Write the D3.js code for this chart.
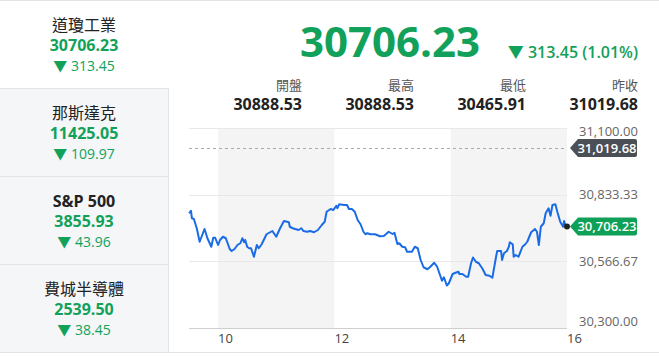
<!DOCTYPE html>
<html>
<head>
<meta charset="utf-8">
<script src="https://cdn.jsdelivr.net/npm/d3@7"></script>
<style>
  body { margin: 0; background: #fff; }
  svg { display: block; font-family: "Open Sans", "Noto Sans CJK TC", sans-serif; }
</style>
</head>
<body>
<div id="chart"></div>
<script>
// --- data ---
const indexNames = ["道瓊工業", "那斯達克", "S&P 500", "費城半導體"];
const indexValues = ["30706.23", "11425.05", "3855.93", "2539.50"];
const indexChanges = ["313.45", "109.97", "43.96", "38.45"];

const lastPrice = 30706.23;
const changeText = "313.45 (1.01%)";
const statLabels = ["開盤", "最高", "最低", "昨收"];
const statValues = ["30888.53", "30888.53", "30465.91", "31019.68"];
const prevClose = 31019.68;

const yTicks = [30300, 30566.67, 30833.33, 31100];
const xTickHours = [10, 12, 14, 16];
const shadedHours = [[10, 12], [14, 16]];

const times = ["09:30","09:32","09:33","09:35","09:38","09:41","09:46","09:49","09:53","09:55","09:57",
  "10:00","10:02","10:05","10:08","10:12","10:14","10:17","10:20","10:23","10:25","10:27","10:28",
  "10:30","10:32","10:34","10:37","10:40","10:42","10:45","10:50","10:56","11:00","11:04","11:08",
  "11:13","11:14","11:17","11:23","11:26","11:28","11:32","11:35","11:39","11:43","11:47","11:50",
  "11:52","11:56","11:59","12:02","12:03","12:05","12:10","12:13","12:15","12:18","12:21","12:24",
  "12:27","12:30","12:32","12:34","12:37","12:42","12:47","12:51","12:56","13:00","13:02","13:05",
  "13:07","13:10","13:13","13:15","13:20","13:23","13:26","13:29","13:32","13:36","13:39","13:43",
  "13:46","13:49","13:51","13:53","13:56","13:58","14:02","14:05","14:08","14:09","14:12","14:16",
  "14:18","14:21","14:23","14:26","14:29","14:33","14:36","14:40","14:43","14:47","14:48","14:52",
  "14:53","14:55","14:58","15:00","15:01","15:04","15:05","15:07","15:10","15:14","15:17","15:19",
  "15:23","15:27","15:29","15:31","15:33","15:36","15:38","15:41","15:43","15:45","15:48","15:50",
  "15:53","15:56","15:57","15:59","16:00"];
const prices = [30759,30769,30739,30736,30699,30645,30696,30659,30625,30661,30661,
  30632,30652,30665,30659,30616,30608,30616,30632,30639,30659,30643,30652,
  30625,30619,30619,30585,30632,30619,30635,30675,30688,30665,30699,30728,
  30723,30705,30699,30692,30699,30688,30685,30688,30683,30692,30712,30725,
  30765,30776,30772,30789,30779,30795,30792,30792,30776,30776,30765,30732,
  30715,30685,30675,30679,30675,30675,30667,30668,30685,30676,30681,30636,
  30639,30625,30623,30605,30605,30625,30619,30572,30543,30535,30545,30561,
  30545,30512,30489,30503,30470,30478,30516,30521,30525,30516,30516,30505,
  30505,30559,30582,30565,30559,30536,30512,30509,30501,30589,30608,30608,
  30572,30599,30608,30625,30643,30635,30585,30592,30585,30625,30635,30645,
  30683,30696,30685,30632,30705,30719,30759,30779,30749,30792,30795,30765,
  30725,30705,30728,30701,30706.23];

// --- setup ---
const W = 659, H = 357;
const green = "#12a15a";
const svg = d3.select("#chart").append("svg").attr("width", W).attr("height", H);

// --- left panel ---
const tileH = 88;
const tiles = svg.selectAll(".tile").data(indexNames).enter().append("g")
  .attr("transform", (d, i) => `translate(0, ${i * tileH})`);

tiles.append("rect")
  .attr("width", 168).attr("height", tileH)
  .attr("fill", (d, i) => i === 0 ? "#fff" : "#f5f6f8");

tiles.append("text")
  .attr("x", 84).attr("y", 31)
  .attr("text-anchor", "middle")
  .style("font-size", "16px")
  .style("font-weight", (d) => d.startsWith("S&P") ? 700 : 400)
  .attr("fill", "#222")
  .text((d) => d);

tiles.append("text")
  .attr("x", 84).attr("y", 51)
  .attr("text-anchor", "middle")
  .style("font-size", "16px").style("font-weight", 700)
  .attr("fill", green)
  .text((d, i) => indexValues[i]);

tiles.append("text")
  .attr("x", 84).attr("y", 71)
  .attr("text-anchor", "middle")
  .style("font-size", "14px")
  .attr("fill", green)
  .text((d, i) => "▼ " + indexChanges[i]);

// dividers
svg.selectAll(".divider").data(d3.range(1, indexNames.length + 1)).enter().append("line")
  .attr("x1", 0).attr("x2", 168)
  .attr("y1", (d) => d * tileH + 0.5).attr("y2", (d) => d * tileH + 0.5)
  .attr("stroke", "#e2e4e7");
svg.append("line").attr("x1", 168.5).attr("x2", 168.5).attr("y1", tileH).attr("y2", 4 * tileH)
  .attr("stroke", "#e2e4e7");
svg.append("line").attr("x1", 0).attr("x2", W).attr("y1", 0.5).attr("y2", 0.5).attr("stroke", "#e3e3e3");
svg.append("line").attr("x1", 0).attr("x2", W).attr("y1", 352.5).attr("y2", 352.5).attr("stroke", "#e3e3e3");

// --- header ---
svg.append("text")
  .attr("x", 480).attr("y", 57)
  .attr("text-anchor", "end")
  .style("font-size", "42px").style("font-weight", 700)
  .attr("fill", green)
  .text(lastPrice.toFixed(2));

svg.append("text")
  .attr("x", 638).attr("y", 58)
  .attr("text-anchor", "end")
  .style("font-size", "16px").style("font-weight", 600)
  .attr("fill", green)
  .text("▼ " + changeText);

const statX = d3.scalePoint().domain(statLabels).range([302, 638]);
svg.selectAll(".stat-label").data(statLabels).enter().append("text")
  .attr("x", (d) => statX(d)).attr("y", 90)
  .attr("text-anchor", "end")
  .style("font-size", "13px")
  .attr("fill", "#555")
  .text((d) => d);
svg.selectAll(".stat-value").data(statValues).enter().append("text")
  .attr("x", (d, i) => statX(statLabels[i])).attr("y", 110)
  .attr("text-anchor", "end")
  .style("font-size", "16px").style("font-weight", 700)
  .attr("fill", "#222")
  .text((d) => d);

// --- chart ---
const parse = d3.timeParse("%H:%M");
const series = times.map((t, i) => ({ t: parse(t), v: prices[i] }));
const hour = (h) => { const d = parse("00:00"); d.setHours(h); return d; };

const x = d3.scaleTime().domain([parse("09:30"), parse("16:00")]).range([189, 567]);
const y = d3.scaleLinear().domain([30300, 31100]).range([328, 128]);

svg.selectAll(".band").data(shadedHours).enter().append("rect")
  .attr("x", (d) => x(hour(d[0]))).attr("y", y(31100))
  .attr("width", (d) => x(hour(d[1])) - x(hour(d[0])))
  .attr("height", y(30300) - y(31100))
  .attr("fill", "#f4f4f4");

svg.selectAll(".grid").data(yTicks.slice(1)).enter().append("line")
  .attr("x1", 189).attr("x2", 567)
  .attr("y1", (d) => Math.round(y(d)) + 0.5).attr("y2", (d) => Math.round(y(d)) + 0.5)
  .attr("stroke", "#e8e8e8");

svg.append("line")
  .attr("x1", 189).attr("x2", 567)
  .attr("y1", y(30300) + 0.5).attr("y2", y(30300) + 0.5)
  .attr("stroke", "#cfcfcf");

svg.append("line")
  .attr("x1", 189).attr("x2", 567)
  .attr("y1", Math.round(y(prevClose)) + 0.5).attr("y2", Math.round(y(prevClose)) + 0.5)
  .attr("stroke", "#aaa").attr("stroke-dasharray", "3,3");

// y labels
const fmt = d3.format(",.2f");
svg.selectAll(".ylabel").data(yTicks).enter().append("text")
  .attr("x", 579)
  .attr("y", (d, i) => y(d) + (i === 0 ? -2 : i === yTicks.length - 1 ? 8 : 4.5))
  .style("font-size", "13px")
  .attr("fill", "#666")
  .text((d) => fmt(d));

// x labels
svg.selectAll(".xlabel").data(xTickHours).enter().append("text")
  .attr("x", (d) => x(hour(d))).attr("y", 343)
  .style("font-size", "13px")
  .attr("fill", "#444")
  .text((d) => d);

// line
const line = d3.line().x((d) => x(d.t)).y((d) => y(d.v));
svg.append("path").datum(series)
  .attr("d", line)
  .attr("fill", "none")
  .attr("stroke", "#1a6be6")
  .attr("stroke-width", 2)
  .attr("stroke-linejoin", "round");

const last = series[series.length - 1];
svg.append("circle")
  .attr("cx", x(last.t)).attr("cy", y(last.v)).attr("r", 3)
  .attr("fill", "#222");

// tags
function tag(value, color) {
  const cy = y(value);
  const g = svg.append("g").attr("transform", `translate(570, ${cy})`);
  g.append("path")
    .attr("d", "M0,0 L8,-9 L65,-9 Q67,-9 67,-7 L67,7 Q67,9 65,9 L8,9 Z")
    .attr("fill", color);
  g.append("text")
    .attr("x", 37).attr("y", 4.5)
    .attr("text-anchor", "middle")
    .style("font-size", "13px").style("font-weight", 600)
    .attr("fill", "#fff")
    .text(fmt(value));
}
tag(prevClose, "#4b5056");
tag(lastPrice, "#0fa058");
</script>
</body>
</html>
